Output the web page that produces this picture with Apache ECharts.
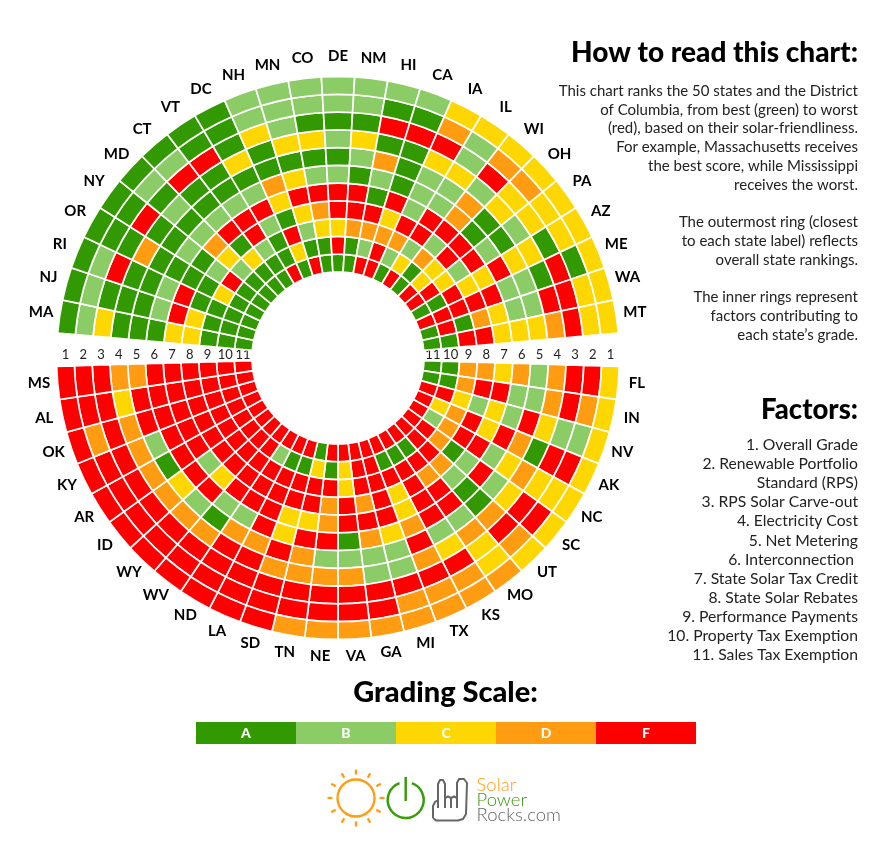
<!DOCTYPE html>
<html><head><meta charset="utf-8">
<style>html,body{margin:0;padding:0;background:#fff}#c{width:891px;height:851px}</style>
<script src="https://cdn.jsdelivr.net/npm/echarts@6/dist/echarts.min.js"></script>
</head><body><div id="c"></div>
<script>
const upperStates=['MA','NJ','RI','OR','NY','MD','CT','VT','DC','NH','MN','CO','DE','NM','HI','CA','IA','IL','WI','OH','PA','AZ','ME','WA','MT'];
const lowerStates=['FL','IN','NV','AK','NC','SC','UT','MO','KS','TX','MI','GA','VA','NE','TN','SD','LA','ND','WV','WY','ID','AR','KY','OK','AL','MS'];
// one string per state, factor 1 (outer ring) to factor 11 (inner ring)
const upperGrades=['ABCAAACCAAA','ABAAABFCAAA','ABFAABFAAAA','AAADAAAACAA','AAFAABABFAA','ABABABDCBAA','ABFAABFACAA','AAFAABFFBAA','AAACABFBAAF','BBCAADCAFCA','BBBCACFCBAF','BBACABFDCAA','BBABABFFCFA','BBACBAFFDAA','BAFADBAFDBF','BAFAAAFCDFF','CDFCBBBFDBA','CBBCBBFFBCF','CDFBDDFBDAA','CDCCAAFFCCF','CCCBABFBCFF','CCACCFCCFAA','CAFABBFFFFF','CCFFBBCDAFA','CCFDCCCFFAA'];
const lowerGrades=['CFFDBDCDDAA','CDFDBBFFDAA','CBBCFBCBCFF','CFFADFCFDCF','CCCDCBFFDBF','CFFCBFBADFF','CDFDAABDFFF','DCCDBFFDFAF','DDFCBFFFFAF','DDFDFDCCFAF','DDFBBCFFFFF','DFFBBDFDFFF','DFFDBAFFCCF','DFFDBFDDFAF','DFFDDFCFFCA','FFFDFCCFFAF','FFFFDFFFFAF','FFFFDBFFFBF','FFFDABFFFFF','FFFDBFCFFFF','FFFDCFBFFFF','FFFDAFFFFFF','FFFDBFFFFFF','FDFDFFFFFFF','FFFCFFFFFFF','FFFDDFFFFFF'];
const factorTicks=['1','2','3','4','5','6','7','8','9','10','11'];
const gradeLetters=['A','B','C','D','F'];
const gradeColors=['#339900','#8BCC66','#FFD700','#FF9C11','#FF0000'];
const infoLines=['This chart ranks the 50 states and the District','of Columbia, from best (green) to worst','(red), based on their solar-friendliness.','For example, Massachusetts receives','the best score, while Mississippi','receives the worst.','','The outermost ring (closest','to each state label) reflects','overall state rankings.','','The inner rings represent','factors contributing to','each state\u2019s grade.'];
const factorLines=['1. Overall Grade','2. Renewable Portfolio','Standard (RPS)','3. RPS Solar Carve-out','4. Electricity Cost','5. Net Metering','6. Interconnection ','7. State Solar Tax Credit','8. State Solar Rebates','9. Performance Payments','10. Property Tax Exemption','11. Sales Tax Exemption'];

const CX=338,CY=358,R0=86,RW=17.77,LABEL_R=12.05;
const FONT='Lato, "Open Sans", sans-serif';
// 53 angular slots: upper states, a gap, lower states, a gap
const slots=[...upperStates,'',...lowerStates,''];
const slotGrades=[...upperGrades,'',...lowerGrades,''];
const colorOf=g=>gradeColors[gradeLetters.indexOf(g)];

const series=[];
for(let f=10;f>=0;f--){
  series.push({type:'bar',coordinateSystem:'polar',stack:'rings',barCategoryGap:'0%',silent:true,animation:false,
    itemStyle:{borderColor:'#fff',borderWidth:1.7},
    data:slotGrades.map(g=>g?{value:1,itemStyle:{color:colorOf(g[f])}}:'-')});
}
series.push({type:'scatter',coordinateSystem:'polar',silent:true,animation:false,symbolSize:0,z:5,itemStyle:{opacity:1},
  data:slots.map((s,i)=>s?{value:[LABEL_R,i],name:s}:null).filter(Boolean),
  label:{show:true,position:'inside',formatter:p=>p.name,color:'#000',opacity:1,fontFamily:FONT,fontWeight:700,fontSize:15,offset:[0,-1.5]}});

const graphic=[];
const text=(t,x,y,o)=>graphic.push({type:'text',silent:true,style:Object.assign({text:t,x,y,fill:'#222',fontFamily:FONT,fontSize:15,textAlign:'right',textVerticalAlign:'middle'},o||{})});
text('How to read this chart:',858,53,{fill:'#000',fontSize:28,fontWeight:900});
infoLines.forEach((l,i)=>{if(l)text(l,858,91+i*18.75);});
text('Factors:',858,410,{fill:'#000',fontSize:27.5,fontWeight:900});
factorLines.forEach((l,i)=>text(l,858,445+i*19.1,{fontSize:15.7}));
text('Grading Scale:',445.5,693,{fill:'#000',fontSize:29,fontWeight:900,textAlign:'center'});
factorTicks.forEach((t,i)=>{
  const d=R0+RW*(10.5-i);
  text(t,CX-d,355,{textAlign:'center',fontSize:13,fontWeight:400});
  text(t,CX+d,355,{textAlign:'center',fontSize:13,fontWeight:400});
});
gradeLetters.forEach((g,i)=>{
  graphic.push({type:'rect',silent:true,shape:{x:196+i*100,y:722,width:100,height:22},style:{fill:gradeColors[i]}});
  text(g,246+i*100,733,{textAlign:'center',fill:'#fff',fontWeight:900,fontSize:14});
});
// logo
const ORANGE='#FF9C11',GREEN='#3A9C0A',GREY='#666';
graphic.push({type:'circle',silent:true,shape:{cx:356,cy:798,r:18.5},style:{fill:'none',stroke:ORANGE,lineWidth:2.3}});
for(let k=0;k<12;k++){
  const a=k*Math.PI/6;
  graphic.push({type:'line',silent:true,shape:{x1:356+23.5*Math.cos(a),y1:798+23.5*Math.sin(a),x2:356+28.5*Math.cos(a),y2:798+28.5*Math.sin(a)},style:{stroke:ORANGE,lineWidth:2.3}});
}
graphic.push({type:'arc',silent:true,shape:{cx:405.7,cy:800,r:18,startAngle:-Math.PI/2+0.35,endAngle:-Math.PI/2-0.35+2*Math.PI,clockwise:true},style:{fill:'none',stroke:GREEN,lineWidth:2.5}});
graphic.push({type:'line',silent:true,shape:{x1:405.7,y1:777,x2:405.7,y2:801},style:{stroke:GREEN,lineWidth:2.5}});
const handOutline=[[433,818],[433,806],[435,802],[438,800],[438,784],[440,780],[443,780],[445,784],[445,798],[448,796.5],[451,798],[454,796.5],[457,798],[457,783],[459,779],[464,779],[467,783],[466,814],[463,819],[458,820.5],[436,820.5],[433,818]];
graphic.push({type:'polyline',silent:true,shape:{points:handOutline},style:{fill:'none',stroke:GREY,lineWidth:2,lineJoin:'round'}});
[438,445,451,457].forEach(x=>graphic.push({type:'line',silent:true,shape:{x1:x,y1:798,x2:x,y2:808},style:{stroke:GREY,lineWidth:2}}));
text('Solar',476.5,785,{textAlign:'left',fill:ORANGE,fontSize:18.5,fontWeight:300});
text('Power',476.5,800,{textAlign:'left',fill:GREEN,fontSize:18.5,fontWeight:300});
text('Rocks.com',476.5,815,{textAlign:'left',fill:GREY,fontSize:18.5,fontWeight:300});

const chart=echarts.init(document.getElementById('c'),null,{renderer:'canvas'});
chart.setOption({animation:false,backgroundColor:'#fff',
  polar:{center:[CX,CY],radius:[R0,R0+RW*LABEL_R]},
  angleAxis:{type:'category',data:slots,startAngle:174.9,clockwise:true,axisLine:{show:false},axisTick:{show:false},axisLabel:{show:false},splitLine:{show:false}},
  radiusAxis:{type:'value',min:0,max:LABEL_R,axisLine:{show:false},axisTick:{show:false},axisLabel:{show:false},splitLine:{show:false}},
  series,graphic});
</script></body></html>
